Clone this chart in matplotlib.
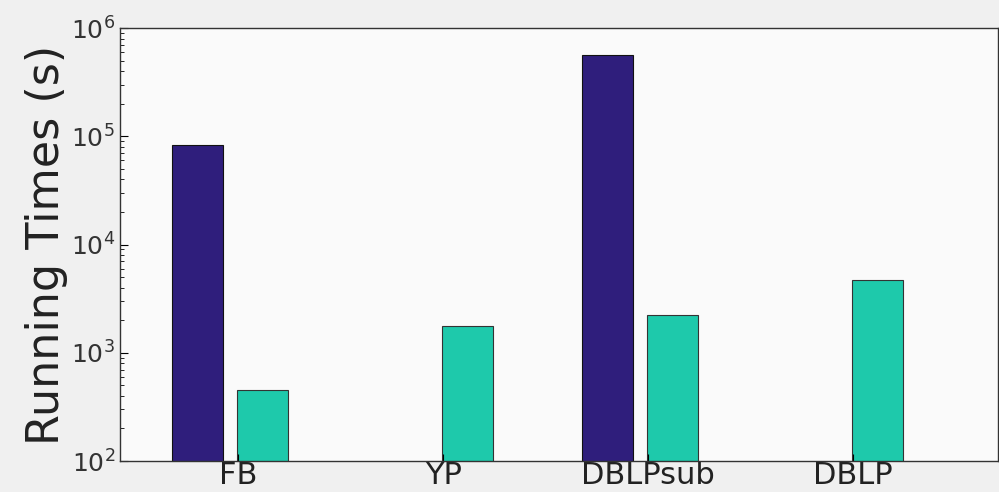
import numpy as np
import matplotlib
matplotlib.use('Agg')
import matplotlib.pyplot as plt
from matplotlib.ticker import LogLocator, NullFormatter

# running times in seconds per dataset (nan = no run)
datasets = ['FB', 'YP', 'DBLPsub', 'DBLP']
baseline_times = [83000, np.nan, 560000, np.nan]
ours_times = [450, 1750, 2250, 4700]

dark = '#2f1e7c'
teal = '#1ec9ab'

fig = plt.figure(figsize=(9.99, 4.92), dpi=100, facecolor='#f0f0f0')
ax = fig.add_axes([0.120, 0.063, 0.879, 0.880], facecolor='#fafafa')

x = np.arange(len(datasets))
width = 0.25
offset = 0.16
ax.bar(x - offset, baseline_times, width, color=dark, edgecolor='#111111',
       linewidth=0.8)
ax.bar(x + offset, ours_times, width, color=teal, edgecolor='#333333',
       linewidth=0.8)

ax.set_yscale('log')
ax.set_ylim(1e2, 1e6)
ax.set_xlim(-0.537, 3.746)
ax.yaxis.set_major_locator(LogLocator(base=10, numticks=10))
ax.yaxis.set_minor_locator(LogLocator(base=10, subs=np.arange(2, 10),
                                      numticks=20))
ax.yaxis.set_minor_formatter(NullFormatter())

ax.set_xticks(x + 0.04)
ax.set_xticklabels(datasets, fontsize=22, color='#222222')
ax.tick_params(axis='x', direction='in', length=5, pad=0)
ax.tick_params(axis='y', which='major', direction='in', length=6,
               labelsize=18, labelcolor='#333333')
ax.tick_params(axis='y', which='minor', direction='in', length=3)
ax.set_ylabel('Running Times (s)', fontsize=32, color='#222222', labelpad=2)

for side in ax.spines:
    ax.spines[side].set_color('#333333')
    ax.spines[side].set_linewidth(1.0)

fig.savefig('out.png', dpi=100, facecolor=fig.get_facecolor())
